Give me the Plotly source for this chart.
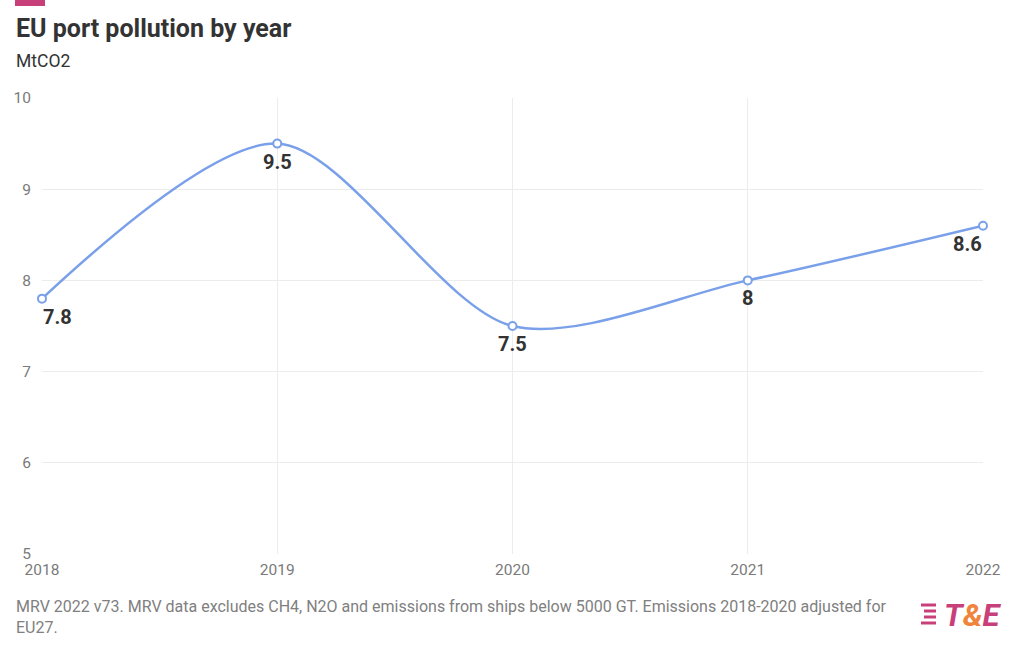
import plotly.graph_objects as go

years = [2018, 2019, 2020, 2021, 2022]
emissions = [7.8, 9.5, 7.5, 8.0, 8.6]
labels = ["7.8", "9.5", "7.5", "8", "8.6"]
label_xshift = [15, 0, 0, 0, -16]

title = "EU port pollution by year"
subtitle = "MtCO2"
footer = ("MRV 2022 v73. MRV data excludes CH4, N2O and emissions from ships below 5000 GT. "
          "Emissions 2018-2020 adjusted for<br>EU27.")

line_color = "#7aa0ea"
font_family = "Roboto, 'Noto Sans', sans-serif"

fig = go.Figure()
fig.add_trace(go.Scatter(
    x=years, y=emissions, mode="lines+markers",
    line=dict(color=line_color, width=2.5, shape="spline", smoothing=0.85),
    marker=dict(symbol="circle", size=8, color="white", line=dict(color=line_color, width=2)),
    cliponaxis=False, hoverinfo="x+y", showlegend=False,
))

for x, y, t, dx in zip(years, emissions, labels, label_xshift):
    fig.add_annotation(x=x, y=y, text="<b>" + t + "</b>", showarrow=False,
                       xshift=dx, yshift=-18, xanchor="center", yanchor="middle",
                       font=dict(size=20, color="#333333", family=font_family))

fig.update_layout(
    width=1020, height=650,
    margin=dict(l=42, r=37, t=98, b=96, autoexpand=False),
    paper_bgcolor="white", plot_bgcolor="white",
    font=dict(family=font_family, color="#777777"),
    xaxis=dict(range=[2018, 2022], tickvals=years, ticktext=[str(y) for y in years],
               showgrid=True, gridcolor="#ececec", gridwidth=1, zeroline=False,
               showline=False, ticks="", automargin=False, ticklabelstandoff=4,
               tickfont=dict(size=15.5, color="#7a7a7a")),
    yaxis=dict(range=[5, 10], dtick=1, showgrid=True, gridcolor="#ececec", gridwidth=1,
               zeroline=False, showline=False, ticks="", ticklabelstandoff=10, automargin=False,
               tickfont=dict(size=15.5, color="#7a7a7a")),
)

# helpers: window pixel -> paper coordinates (plot area spans x 42..983, y 98..554)
def px_x(px):
    return (px - 42) / 941

def px_y(py):
    return (554 - py) / 456

fig.add_shape(type="rect", xref="paper", yref="paper",
              x0=px_x(15), x1=px_x(45), y0=px_y(6), y1=px_y(0),
              line=dict(width=0), fillcolor="#c8407a")

# logo stripes
for i, yy in enumerate([605, 611, 617, 623]):
    offs = [0, 3, 3, 0][i]
    fig.add_shape(type="line", xref="paper", yref="paper",
                  x0=px_x(921 + offs), x1=px_x(936),
                  y0=px_y(yy), y1=px_y(yy),
                  line=dict(color="#c8407a", width=3))

fig.add_annotation(xref="paper", yref="paper", x=px_x(14), y=px_y(28), xanchor="left", yanchor="middle",
                   text="<b>" + title + "</b>", showarrow=False,
                   font=dict(size=25, color="#333333", family=font_family))
fig.add_annotation(xref="paper", yref="paper", x=px_x(14), y=px_y(61), xanchor="left", yanchor="middle",
                   text=subtitle, showarrow=False,
                   font=dict(size=17.5, color="#333333", family=font_family))
fig.add_annotation(xref="paper", yref="paper", x=px_x(14), y=px_y(617), xanchor="left", yanchor="middle",
                   text=footer, showarrow=False, align="left",
                   font=dict(size=16, color="#808080", family=font_family))
fig.add_annotation(xref="paper", yref="paper", x=px_x(942), y=px_y(615), xanchor="left", yanchor="middle",
                   text="<b><i>T<span style='color:#f0843c'>&amp;</span>E</i></b>", showarrow=False,
                   font=dict(size=31, color="#c8407a", family=font_family))

fig.write_html("out.html", config={"displayModeBar": False},
               post_script="document.body.style.margin='0';")
